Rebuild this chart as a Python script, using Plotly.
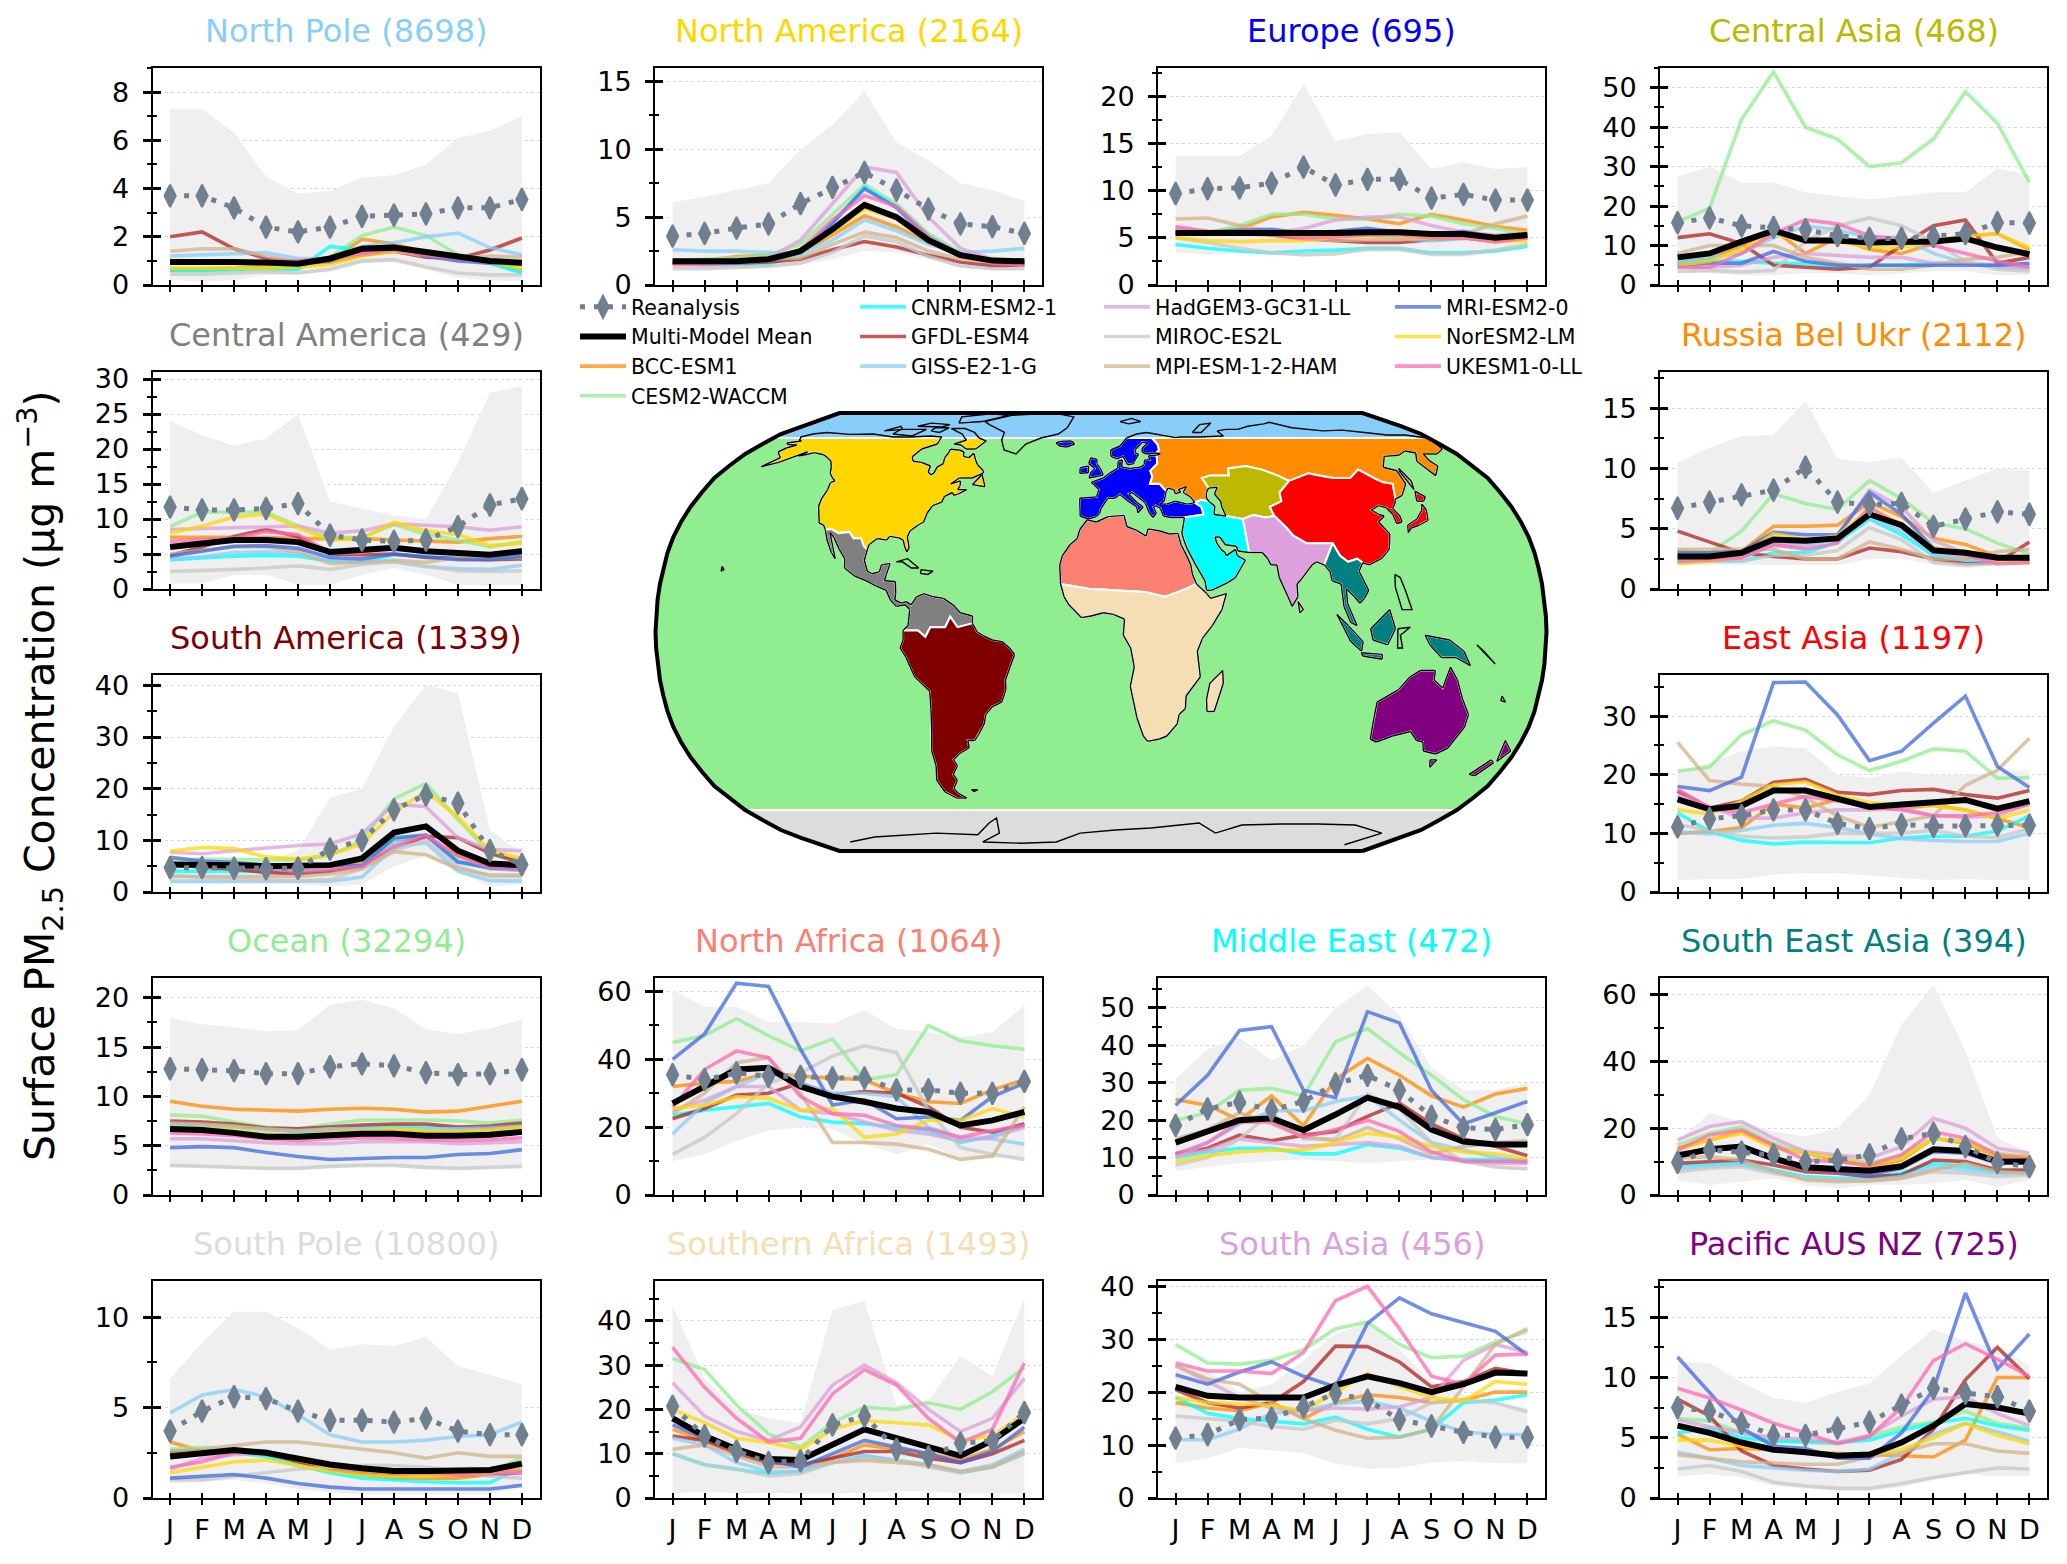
import numpy as np
import plotly.graph_objects as go

# the page body keeps an 8 px margin, so the figure is 16 px smaller and every pixel position shifts by 8
PAGE_MARGIN = 8
WIDTH, HEIGHT = 2067 - 2 * PAGE_MARGIN, 1564 - 2 * PAGE_MARGIN
months = ["J", "F", "M", "A", "M", "J", "J", "A", "S", "O", "N", "D"]
model_names = ["BCC-ESM1", "CESM2-WACCM", "CNRM-ESM2-1", "GFDL-ESM4", "GISS-E2-1-G", "HadGEM3-GC31-LL",
               "MIROC-ES2L", "MPI-ESM-1-2-HAM", "MRI-ESM2-0", "NorESM2-LM", "UKESM1-0-LL"]
model_colors = ["#ff8c00", "#90ee90", "#00ffff", "#b22222", "#87cefa", "#dda0dd",
                "#c8c8c8", "#d2b48c", "#4169e1", "#ffd700", "#ff69b4"]

# North Pole
npole_low = [.2, .15, .2, .4, .45, .55, .9, .95, .65, .3, .2, .15]
npole_high = [7.3, 7.3, 6.3, 4.5, 3.8, 3.9, 4.45, 4.55, 5.0, 6.1, 6.4, 7.0]
npole_rean = [3.7, 3.7, 3.2, 2.4, 2.2, 2.4, 2.85, 2.9, 2.95, 3.2, 3.2, 3.55]
npole_mean = [.95, .98, .95, .93, .88, 1.1, 1.5, 1.55, 1.35, 1.15, 1.0, .92]
npole_models = [
    [.65, .65, .7, .75, .75, 1.0, 1.9, 1.7, 1.35, 1.15, .95, .6],
    [.6, .6, .65, .7, .7, 1.15, 2.05, 2.4, 2.05, 1.25, .95, .55],
    [.6, .6, .65, .65, .65, 1.6, 1.45, 1.5, 1.3, 1.1, .9, .5],
    [2.0, 2.2, 1.5, 1.1, .95, .95, 1.25, 1.4, 1.15, 1.1, 1.45, 1.95],
    [1.2, 1.25, 1.3, 1.35, 1.1, 1.1, 1.6, 1.75, 2.0, 2.15, 1.55, 1.25],
    [.9, .95, .9, .95, 1.0, 1.1, 1.35, 1.45, 1.25, 1.05, .95, .9],
    [.45, .45, .5, .55, .5, .65, 1.0, 1.05, .75, .5, .42, .42],
    [1.4, 1.5, 1.5, 1.2, .95, 1.0, 1.3, 1.4, 1.2, 1.1, 1.2, 1.15],
    [.95, .95, .95, .9, .85, 1.0, 1.55, 1.6, 1.2, 1.0, .9, .85],
    [.7, .7, .7, .7, .75, .85, 1.2, 1.4, 1.35, 1.15, .95, .7],
    [.9, .9, .95, 1.0, 1.0, 1.1, 1.3, 1.45, 1.25, 1.1, .95, .9],
]
# North America
namer_low = [1.2, 1.2, 1.2, 1.2, 1.5, 1.9, 2.5, 2.4, 1.9, 1.3, 1.1, 1.1]
namer_high = [6.1, 6.5, 7.0, 7.5, 10, 11.8, 14.3, 10.5, 9.2, 7.5, 7.0, 6.2]
namer_rean = [3.6, 3.8, 4.2, 4.5, 6.0, 7.2, 8.3, 7.0, 5.6, 4.5, 4.3, 3.8]
namer_mean = [1.75, 1.75, 1.75, 1.9, 2.5, 4.1, 5.9, 5.0, 3.3, 2.2, 1.8, 1.75]
namer_models = [
    [1.7, 1.8, 2.1, 2.2, 2.4, 3.7, 5.1, 4.3, 3.1, 2.3, 1.9, 1.7],
    [1.8, 1.9, 2.0, 2.2, 3.0, 5.2, 7.4, 6.0, 3.8, 2.4, 1.8, 1.7],
    [1.6, 1.5, 1.5, 1.5, 2.3, 4.5, 7.2, 5.8, 3.6, 2.2, 1.6, 1.6],
    [1.6, 1.6, 1.6, 1.7, 1.9, 2.6, 3.2, 2.8, 2.2, 1.7, 1.4, 1.5],
    [2.6, 2.5, 2.5, 2.4, 2.3, 3.3, 4.8, 4.0, 3.0, 2.4, 2.5, 2.7],
    [1.8, 1.8, 1.9, 2.0, 3.3, 6.0, 8.7, 8.3, 5.0, 2.7, 1.9, 1.7],
    [1.2, 1.2, 1.3, 1.4, 1.6, 2.4, 3.6, 3.2, 2.1, 1.4, 1.2, 1.2],
    [1.7, 1.7, 1.8, 1.9, 2.0, 3.0, 3.9, 3.5, 2.5, 1.9, 1.7, 1.7],
    [1.7, 1.7, 1.7, 1.8, 2.4, 4.6, 7.1, 5.7, 3.4, 2.2, 1.7, 1.7],
    [1.7, 1.7, 1.7, 1.8, 2.4, 3.9, 5.6, 4.9, 3.3, 2.2, 1.7, 1.7],
    [1.5, 1.5, 1.6, 1.8, 2.6, 4.8, 6.6, 5.8, 3.6, 2.2, 1.6, 1.5],
]
# Europe
europe_low = [3.5, 3.2, 3.4, 3.4, 3.0, 3.3, 3.5, 3.5, 3.0, 3.0, 3.4, 3.9]
europe_high = [13.7, 13.7, 13.7, 15.8, 21.3, 15.2, 16.0, 16.2, 12.3, 13, 12.3, 12.5]
europe_rean = [9.7, 10.2, 10.3, 10.8, 12.5, 10.6, 11.2, 11.2, 9.2, 9.6, 9.0, 9.0]
europe_mean = [5.5, 5.5, 5.4, 5.4, 5.4, 5.5, 5.6, 5.6, 5.4, 5.4, 5.0, 5.3]
europe_models = [
    [5.8, 5.6, 6.0, 7.2, 7.7, 7.4, 7.0, 6.5, 7.5, 6.9, 6.2, 5.8],
    [5.5, 5.5, 6.3, 7.5, 7.5, 7.0, 7.0, 7.5, 7.3, 6.5, 6.0, 5.3],
    [4.3, 3.9, 3.6, 3.4, 3.6, 3.7, 3.9, 3.9, 3.4, 3.4, 3.6, 4.1],
    [5.5, 5.5, 5.6, 5.3, 4.9, 4.7, 4.5, 4.5, 4.8, 5.0, 4.6, 5.0],
    [5.7, 5.6, 5.7, 5.8, 5.3, 5.4, 5.3, 4.9, 4.7, 4.9, 5.0, 5.2],
    [6.0, 5.7, 5.6, 5.4, 6.0, 6.9, 7.2, 7.2, 6.3, 5.6, 5.3, 5.5],
    [5.0, 4.5, 3.9, 3.4, 3.2, 3.3, 3.8, 3.8, 3.3, 3.3, 3.7, 4.3],
    [7.0, 7.1, 6.3, 5.7, 5.0, 4.7, 4.8, 4.8, 5.0, 5.4, 6.5, 7.3],
    [5.5, 5.6, 5.8, 5.9, 5.5, 5.7, 6.0, 5.6, 5.3, 5.7, 5.0, 5.3],
    [5.0, 4.7, 4.6, 4.7, 4.7, 5.1, 5.2, 5.2, 4.9, 5.1, 4.6, 4.7],
    [6.2, 5.7, 5.4, 5.3, 5.0, 5.1, 5.3, 5.3, 5.0, 5.0, 4.6, 5.0],
]
# Central Asia
casia_low = [3, 3, 2.5, 2.5, 3, 3, 2.5, 3, 3.5, 3.5, 2.5, 2.5]
casia_high = [27.5, 30, 26, 26, 23.5, 22.5, 21.7, 22.5, 23.5, 23.5, 29.5, 28]
casia_rean = [15.8, 17, 15, 14.6, 14, 12.5, 11.8, 11.8, 12.3, 13, 15.8, 15.7]
casia_mean = [7, 8, 11, 13.8, 11.3, 11.3, 10.8, 10.8, 11, 11.8, 9.5, 7.8]
casia_models = [
    [6, 6.5, 10, 14, 8, 12, 9, 8, 10.5, 12.5, 13, 9],
    [16, 19.5, 42, 54, 40, 37, 30, 31, 37, 49, 41, 26],
    [5.5, 6, 6, 5.5, 5.5, 4.5, 5, 5, 5.5, 5.5, 5, 5],
    [12, 13, 10.5, 5, 4.5, 4, 4.5, 10, 15, 16.5, 5.5, 7],
    [6, 7, 8, 12, 15, 14, 12, 12, 8, 5.5, 5, 4.5],
    [4.5, 4.5, 5, 7, 8, 7.5, 7, 7, 5.5, 5.5, 4.5, 4],
    [3.5, 3.7, 3.3, 3.7, 11, 15, 17, 15, 11, 6, 4, 3.5],
    [8, 10, 10, 10, 7, 5.5, 4, 4, 5, 6.5, 7, 8.5],
    [5, 5.5, 5.5, 8.5, 6, 5, 5, 5, 5, 5, 5, 5.5],
    [5, 6, 9, 13, 11, 11, 9.5, 9.5, 11, 12.5, 13, 9.5],
    [4.5, 4.5, 8, 13, 16.5, 15.5, 12.5, 11.5, 10, 8, 6, 4.5],
]
# Central America
camer_low = [.8, .8, 2, 2, .6, .6, 2, 3, 2, .6, .5, .5]
camer_high = [24, 22, 20.5, 21.5, 25, 12.5, 11.5, 10.5, 10, 18, 28, 29]
camer_rean = [11.7, 11.3, 11.3, 11.5, 12.2, 7.7, 7.0, 6.8, 7.0, 8.9, 12.0, 12.9]
camer_mean = [6, 6.6, 7, 7, 6.7, 5.3, 5.5, 5.9, 5.4, 5.1, 4.9, 5.4]
camer_models = [
    [7.4, 7.4, 7.4, 7.4, 7.2, 7.2, 7.2, 7, 6.8, 6.7, 7.2, 7.5],
    [8.9, 11, 11, 11, 9, 7.3, 7.4, 9.2, 7.8, 7, 6, 6.8],
    [4.2, 4.5, 4.7, 4.8, 4.7, 4, 3.9, 4.9, 4.6, 4.4, 4.3, 4.5],
    [4.8, 6, 7.5, 8.5, 7.5, 5, 4.9, 5, 4.5, 4.3, 4.2, 4.3],
    [4.2, 4.6, 5.2, 5.3, 5, 4.2, 3.7, 3.9, 3.2, 2.9, 2.8, 3.4],
    [8.5, 8.6, 8.7, 8.9, 9, 8, 8.3, 9.3, 9.1, 8.9, 8.4, 8.9],
    [2.5, 2.6, 2.8, 3, 3.3, 2.8, 3.5, 3.9, 3.2, 2.6, 2.5, 2.6],
    [5, 5.5, 6, 6, 5.3, 3.6, 3.8, 4.1, 3.8, 4.5, 4.4, 4.5],
    [4.7, 5.4, 6.1, 6.2, 5.8, 4.5, 4.3, 5, 4.6, 4.2, 4.2, 4.7],
    [8, 9, 10.3, 10.7, 8.7, 7, 7.2, 9.5, 8.3, 7.8, 6.2, 6.5],
    [6.8, 7, 7.3, 8.2, 7.8, 5.2, 5.2, 6, 5.3, 5.2, 5, 5.6],
]
# Russia Bel Ukr
russia_low = [2, 2, 2, 2, 2, 2, 2.5, 2.5, 2, 1.7, 2, 2]
russia_high = [10.5, 11.7, 12.7, 12.8, 15.6, 10.8, 10.5, 10.9, 8, 9, 10, 9.8]
russia_rean = [6.7, 7.2, 7.8, 8.2, 10.1, 7.2, 7, 7.1, 5.2, 5.8, 6.4, 6.2]
russia_mean = [2.7, 2.7, 3, 4.1, 4, 4.2, 6.2, 5.3, 3.2, 3, 2.6, 2.6]
russia_models = [
    [3.2, 3, 3.1, 5.2, 5.2, 5.3, 7.2, 6, 4.2, 3.7, 2.7, 2.6],
    [3, 3, 4.8, 7.9, 7.1, 6.6, 9, 7.5, 5.5, 5, 3.8, 2.9],
    [2.2, 2.3, 2.3, 3, 3, 3.9, 5.8, 4.5, 2.8, 2.3, 2.2, 2.2],
    [4.8, 3.9, 3, 2.7, 2.5, 2.5, 3.4, 3.1, 2.5, 2.1, 2.2, 3.9],
    [2.5, 2.5, 2.6, 3.6, 3.5, 4.2, 5.9, 4.8, 2.9, 2.5, 2.3, 2.3],
    [2.6, 2.6, 2.9, 3.7, 3.7, 4.4, 8.2, 6.8, 4, 3, 2.3, 2.2],
    [2.3, 2.3, 2.3, 2.8, 2.8, 3.2, 5.1, 4.1, 2.2, 2, 2.1, 2.2],
    [3.3, 3.3, 3.3, 3.3, 2.5, 2.5, 3.9, 3.3, 2.5, 2.5, 3.1, 3.3],
    [3, 3, 3.1, 4.7, 4.5, 4.5, 8, 6.2, 3.4, 3, 2.6, 2.4],
    [2.1, 2.3, 2.7, 4.6, 4.1, 4.4, 6.7, 5.4, 3.4, 3.1, 2.4, 2.2],
    [2.3, 2.4, 2.6, 3.7, 3.3, 3.8, 6.8, 5.2, 3.1, 2.8, 2.1, 2.2],
]
# South America
samer_low = [1.5, 1.5, 1.5, 1.5, 1.5, 1, 1.5, 5, 7, 4, 1, 1.5]
samer_high = [6, 6, 6, 6, 8, 18.3, 20, 32, 40, 38.5, 12, 7.5]
samer_rean = [4.7, 4.7, 4.6, 4.5, 4.6, 8.3, 10, 15.9, 18.8, 17.2, 8, 5.3]
samer_mean = [5.3, 5.3, 5.2, 5, 5, 5.2, 6.5, 11.5, 12.7, 8, 5.5, 5.2]
samer_models = [
    [5.3, 5.2, 5, 5, 5, 5, 5.5, 10, 10.8, 7, 5, 5],
    [6, 6.4, 6.3, 6.2, 6.2, 7, 10, 18, 21, 14, 7.5, 6],
    [4, 4, 4, 4, 4, 4, 5.3, 10, 11, 6, 4.5, 4.2],
    [5.4, 4.8, 4.4, 3.8, 3.5, 4, 5, 8.5, 10.8, 10.5, 7.5, 5.7],
    [2.1, 2.1, 2.1, 2.1, 2.1, 2.1, 2.9, 8.7, 9.5, 4, 2.2, 2.1],
    [7.7, 7.4, 8, 8.5, 9, 9.3, 11.3, 17, 16.5, 10.5, 8.2, 8],
    [3.3, 2.8, 2.5, 2.3, 2.2, 2.4, 4.5, 8, 10, 5, 3, 3],
    [3, 3, 3, 3, 3, 3.5, 4.5, 7.8, 7.2, 4.5, 3.3, 3.3],
    [6.7, 6, 5.7, 5.2, 5.2, 5.3, 5, 10.5, 11, 5.8, 4.7, 4.5],
    [7.9, 8.6, 8.4, 6.8, 6.4, 7.2, 9.3, 15.5, 19.5, 14.5, 8, 6.5],
    [5, 5, 5, 4.5, 4, 4.3, 5, 9, 11, 7, 4.6, 4.3],
]
# East Asia
easia_low = [2, 2.2, 2.2, 3, 3.2, 3.2, 2.8, 2.4, 2, 2.2, 2, 2]
easia_high = [20.5, 22, 24, 24.8, 24.5, 20, 19.5, 20.5, 20, 20, 20.5, 20.8]
easia_rean = [11.1, 12.5, 13, 14, 14, 11.7, 10.8, 11.5, 11.2, 11.3, 11.4, 11.4]
easia_mean = [15.8, 14.1, 14.7, 17.3, 17.3, 15.9, 14.5, 14.9, 15.2, 15.7, 14.2, 15.5]
easia_models = [
    [10, 10.3, 11, 15, 14.3, 15.8, 14.3, 14.3, 14.8, 14, 12.5, 11],
    [20.6, 21.3, 26.8, 29.2, 27.6, 23.4, 20.7, 22.3, 24.4, 24, 19.4, 19.5],
    [13.5, 10.3, 8.8, 8.2, 8.5, 8.5, 8.4, 9.2, 9.5, 9.5, 10.4, 13],
    [17.2, 14.3, 15.5, 18.7, 19.2, 17, 16.6, 17.3, 17.5, 16.6, 16, 17.3],
    [10.3, 9.9, 10.5, 11.4, 11.7, 11, 9.9, 9.1, 8.8, 8.6, 8.6, 10],
    [16.5, 14.5, 12.6, 12.6, 13.5, 14, 14, 14.3, 13, 12.7, 13, 15],
    [11.5, 10.5, 9.5, 9.2, 9.4, 10, 10, 10, 10.5, 9.5, 9.3, 10.8],
    [25.5, 19, 18.4, 18, 16, 13, 11, 12, 13, 18.2, 20.8, 26.2],
    [18, 17.3, 19.6, 35.7, 35.8, 30.2, 22.4, 24, 28.8, 33.4, 21.4, 17.8],
    [14, 13.3, 15.5, 18.3, 18.8, 16.5, 15.2, 15, 14.7, 14, 12.5, 14],
    [17.5, 14.4, 13.5, 15, 16.3, 15.5, 14.5, 14, 13, 13, 13.5, 15],
]
# Ocean
ocean_low = [2.9, 2.9, 2.7, 2.6, 2.6, 2.9, 3, 3, 2.8, 2.6, 2.8, 2.9]
ocean_high = [18, 17.3, 17, 16.6, 16.7, 19.3, 19.8, 18.9, 16.8, 16.3, 16.9, 17.8]
ocean_rean = [12.8, 12.7, 12.6, 12.3, 12.3, 13, 13.3, 13.1, 12.4, 12.2, 12.3, 12.7]
ocean_mean = [6.7, 6.6, 6.3, 5.9, 5.9, 6.1, 6.2, 6.2, 6, 6, 6.1, 6.4]
ocean_models = [
    [9.5, 9, 8.7, 8.6, 8.5, 8.7, 8.8, 8.7, 8.4, 8.5, 9, 9.5],
    [8.1, 8, 7.4, 6.9, 6.7, 7.2, 7.6, 7.6, 7.6, 7.5, 7.3, 7.6],
    [6.9, 6.9, 6.9, 6.7, 6.4, 6.6, 6.8, 7, 6.9, 6.6, 6.7, 7.1],
    [7.5, 7.4, 7.2, 6.8, 6.7, 6.9, 7.1, 7.2, 7.2, 6.9, 7, 7.3],
    [7.2, 7.1, 6.9, 6.6, 6.5, 6.7, 6.7, 6.8, 6.7, 6.7, 6.8, 7],
    [5.7, 5.7, 5.5, 5.3, 5.2, 5.2, 5.4, 5.4, 5.4, 5.2, 5.3, 5.4],
    [3, 2.9, 2.8, 2.7, 2.7, 2.9, 3, 3, 2.8, 2.7, 2.8, 2.9],
    [7.3, 7.2, 7, 6.7, 6.5, 6.6, 6.5, 6.5, 6.4, 6.4, 6.6, 6.8],
    [4.8, 4.9, 4.8, 4.3, 3.9, 3.6, 3.7, 3.8, 3.8, 4.1, 4.2, 4.6],
    [6.7, 6.8, 6.6, 6.2, 6, 6.3, 6.5, 6.7, 6.5, 6.4, 6.5, 6.9],
    [6.3, 6.2, 6, 5.7, 5.5, 5.7, 5.8, 5.7, 5.6, 5.5, 5.6, 5.8],
]
# North Africa
nafr_low = [10, 12, 16, 19, 20, 19.5, 15, 12, 15, 11, 11, 11]
nafr_high = [60.5, 55.5, 55.5, 51, 51, 50.5, 54.5, 49, 48, 46.5, 48, 56]
nafr_rean = [35.5, 34, 36, 35, 35, 34.5, 34.5, 31, 31, 30, 30, 33.5]
nafr_mean = [27, 32, 37, 37.5, 32, 29, 27.5, 25.5, 24.5, 20.5, 22, 24.5]
nafr_models = [
    [32, 33, 33.5, 36, 35, 34.5, 34, 30, 27.5, 27, 31, 34],
    [45, 47, 52, 47, 42.5, 46, 34, 35.5, 50, 45.5, 44, 43],
    [23.5, 25, 26, 27, 23, 21.5, 21, 20, 19, 15.5, 17.5, 20.5],
    [22.5, 25.5, 29.5, 30, 33, 29.5, 30.5, 30, 26, 20, 18.5, 21],
    [18, 27, 32, 36, 33, 30, 30, 29, 20, 17, 16.5, 15],
    [25, 28, 32, 32, 25, 24, 21.5, 19, 18, 16, 17, 20],
    [12, 17, 24, 33, 36, 41, 44, 42, 25, 14, 12, 10.5],
    [24, 30, 39, 40.5, 30, 15.5, 15.5, 15, 13.5, 10.5, 11.5, 26],
    [40, 47.5, 62.5, 61.5, 43, 26.5, 28, 22.5, 23, 22, 29, 33],
    [25.5, 26.5, 29, 28.5, 25, 25.5, 17, 18, 22, 22, 25.5, 23],
    [26, 37, 42.5, 40.5, 29, 24, 23.5, 20.5, 19.5, 17, 19, 20.5],
]
# Middle East
meast_low = [6.5, 7.5, 8.5, 9, 9.5, 9, 8.5, 9, 9.5, 9, 7, 6.5]
meast_high = [31, 39, 42, 36, 40, 50, 56, 48, 34, 28, 28, 30]
meast_rean = [18.6, 23, 24.8, 22.7, 25, 29.7, 32, 28, 21, 18, 17.5, 18.8]
meast_mean = [14, 17, 20, 20.5, 17.3, 21.5, 26, 23.5, 17.5, 14.3, 13.5, 13.5]
meast_models = [
    [25.5, 24, 20, 26.5, 18.5, 31, 36.5, 32, 26.5, 23.5, 27, 28.5],
    [20, 22, 28, 28.5, 26.5, 41, 44.5, 38, 32, 25.5, 21, 19],
    [10, 11.5, 12.5, 12.5, 11, 11, 13.5, 12.5, 10, 9.5, 9.5, 9.5],
    [11, 12.5, 16, 14.5, 16, 17, 21, 24.5, 19, 15, 13, 10.5],
    [10, 14, 19, 22.5, 22.5, 25, 26.5, 20, 14, 12, 10, 8.5],
    [10.5, 12, 15, 14, 13, 13.5, 14, 13, 10, 9, 8.5, 8.5],
    [8, 10, 15, 22, 15, 15, 27, 23, 14, 9, 7.5, 7],
    [15, 17.5, 22, 19, 15.5, 14.5, 18, 15, 11, 13, 14, 14.5],
    [24, 32, 44, 45, 28, 26, 49, 46, 28, 19, 22, 25],
    [9, 10.5, 11.5, 12, 12, 14, 16.5, 15.5, 13, 11.5, 11, 9.5],
    [11, 14, 19.5, 19.5, 15.5, 17.5, 20, 17, 11.5, 9, 9, 9],
]
# South East Asia
seasia_low = [4.5, 3, 4, 5, 3, 2, 3, 3, 3.5, 4.5, 2.5, 4.5]
seasia_high = [16, 24.5, 22, 19, 17.5, 20, 30, 51, 63, 43, 17, 13]
seasia_rean = [9.8, 13.5, 12.8, 12, 10, 10.5, 12, 16.8, 18.5, 14.5, 9.7, 8.5]
seasia_mean = [11.8, 13.7, 14.5, 11, 8.3, 8, 7.3, 8.6, 13.7, 13.2, 10, 10]
seasia_models = [
    [14, 16.5, 19, 14.5, 12.5, 10.5, 8.5, 10.5, 17, 15.5, 11.5, 11.5],
    [15, 18.5, 20.5, 15.5, 12.5, 11.5, 9.5, 12, 17, 16, 12.5, 11.5],
    [9, 9, 9.5, 7.5, 5.5, 5, 5, 6.5, 9.5, 8.5, 7, 7],
    [9.5, 10, 10.5, 9, 7, 6.5, 5.5, 6, 10.5, 10, 7.5, 7.5],
    [8, 8.5, 9, 7, 5, 4.5, 4.5, 5.5, 8.5, 7.5, 6.5, 6.5],
    [16.5, 20.5, 22, 17, 13, 12, 11, 14.5, 23, 20, 14, 12.5],
    [7, 8, 8.5, 6.5, 5, 4.5, 4.2, 5, 7, 6.5, 5.5, 6],
    [11, 11.5, 10.5, 7.2, 4.5, 4, 4.2, 5, 7.5, 9.5, 7, 6.5],
    [12.5, 13.5, 14, 10.5, 8, 7, 6, 8, 13, 12.5, 9.5, 9.5],
    [13.5, 16.5, 18.5, 14, 12.5, 11, 9, 11, 17, 16, 12, 11.5],
    [13.5, 18, 19.5, 15, 10.5, 10, 9, 12, 19, 17, 12, 11],
]
# South Pole
spole_low = [.8, .9, 1, .8, .5, .3, .2, .2, .2, .2, .2, .7]
spole_high = [6.6, 8.6, 10.3, 10.3, 9.4, 8.2, 8.5, 8.4, 8.9, 7.3, 6.8, 6.3]
spole_rean = [3.7, 4.8, 5.6, 5.5, 4.8, 4.3, 4.3, 4.2, 4.4, 3.7, 3.5, 3.5]
spole_mean = [2.3, 2.5, 2.65, 2.5, 2.15, 1.85, 1.65, 1.5, 1.5, 1.55, 1.55, 1.9]
spole_models = [
    [3.1, 2.6, 2.5, 2.4, 2, 1.6, 1.3, 1.1, 1.1, 1.1, 1.3, 1.8],
    [2.7, 2.8, 2.7, 2.6, 2.1, 1.7, 1.4, 1.3, 1.2, 1.3, 1.5, 2.2],
    [2.6, 2.6, 2.5, 2.3, 1.8, 1.4, 1.1, 1, .9, .85, .85, 1.7],
    [2.5, 2.6, 2.6, 2.5, 2, 1.6, 1.4, 1.3, 1.3, 1.3, 1.3, 1.4],
    [4.7, 5.7, 6, 5.6, 4.6, 3.5, 3.1, 3.1, 3.2, 3.4, 3.5, 4.2],
    [1.6, 2.2, 2.4, 2.5, 2.1, 1.7, 1.5, 1.4, 1.3, 1.3, 1.4, 1.4],
    [1, 1, 1.2, 1.4, 1.6, 1.7, 1.8, 1.8, 1.7, 1.5, 1.2, 1.1],
    [2.6, 2.7, 2.9, 3.1, 3.1, 2.9, 2.7, 2.5, 2.2, 2.5, 2.3, 2.3],
    [1.1, 1.2, 1.3, 1.1, .8, .6, .5, .5, .5, .5, .5, .7],
    [1.4, 1.7, 2, 2.1, 1.8, 1.5, 1.3, 1.2, 1.2, 1.3, 1.4, 1.6],
    [1.7, 2, 2.5, 2.6, 2.1, 1.8, 1.6, 1.4, 1.4, 1.3, 1.4, 1.5],
]
# Southern Africa
safr_low = [1, 1.5, 1, 1.2, 1, 1, 1.2, 1.5, 1.5, 1, 1, 1]
safr_high = [43.5, 27, 20, 18, 17, 42.5, 44.5, 21, 22, 32, 27.5, 45]
safr_rean = [20.7, 14, 10.6, 8, 8.4, 16.5, 18.5, 11, 9.3, 12.4, 12.9, 19.3]
safr_mean = [18, 14, 11, 8.8, 8.6, 12, 15.5, 13.5, 11.5, 9.5, 13, 18]
safr_models = [
    [15.5, 13, 11, 9, 7, 9, 12, 11, 10, 8.5, 11, 15],
    [31.5, 29, 21, 14.5, 11.5, 17, 20.5, 20, 21.5, 20, 24, 29.5],
    [10, 7.5, 6.5, 5.5, 6, 8, 9.5, 8.5, 7.5, 5.7, 7, 10],
    [14, 13, 10, 8, 7.5, 9, 10.5, 10.5, 9, 8, 10, 13],
    [13.5, 12, 8, 6, 6, 8, 9.5, 8.5, 7.5, 6, 7.5, 11],
    [26, 18.5, 15, 13, 16, 25.5, 30, 26, 20, 15, 18, 27],
    [10, 7.5, 6.5, 5, 5.5, 8, 9, 8.5, 7, 5.7, 7, 10],
    [11, 12, 9.5, 7, 7, 8, 8.5, 8, 7.5, 6, 7, 10.5],
    [16.5, 13.5, 11, 8.5, 7, 10, 13, 11.5, 10, 8, 10.5, 16],
    [20, 17, 13.5, 12.5, 11, 15.5, 17.5, 17, 16.5, 13, 14, 19],
    [34, 25, 18, 12.7, 13.5, 23.5, 29, 25.5, 18, 12.5, 15.5, 30.5],
]
# South Asia
sasia_low = [6.5, 7.5, 9.5, 9, 8.5, 6.5, 5.5, 5.7, 6.7, 7, 6.6, 6.5]
sasia_high = [25, 24, 20, 21.5, 26, 31, 33, 28, 22, 19.5, 18, 17]
sasia_rean = [11.3, 12, 14.8, 15.1, 17.2, 19.8, 18.5, 14.8, 13.6, 12.4, 11.5, 11.5]
sasia_mean = [21, 19.3, 19, 19, 19, 21.3, 23, 21.7, 20, 21.5, 23.7, 23.5]
sasia_models = [
    [18, 17, 16.5, 18, 15, 18, 19.5, 19, 18, 18.5, 20, 20],
    [29, 25.5, 25.3, 26, 28, 32, 33.2, 29, 26.5, 26.8, 29.5, 31.5],
    [19, 16, 15, 14.5, 14, 15.3, 13, 11.5, 13, 18, 18.5, 19.5],
    [20.5, 18, 17, 18, 22, 28.7, 28.6, 25.7, 21, 22, 24.5, 23.5],
    [11, 11, 13, 16, 16.5, 17.8, 18.3, 17, 14.5, 12.5, 12, 12],
    [25, 22, 19, 17, 16.5, 17, 16.8, 17.2, 19, 26, 29, 27.5],
    [15.5, 15, 14.5, 13.5, 13, 14.7, 14, 15, 18, 18.5, 18, 16.3],
    [25, 22.5, 21.5, 18, 15, 12.8, 11.3, 11.5, 13, 21, 29, 32],
    [23.3, 21.5, 23.8, 25.7, 23, 21, 33, 37.8, 34.8, 33.2, 31.5, 27],
    [19, 18, 17.8, 17.5, 16.5, 20, 23.5, 21, 19, 18.3, 22, 21.5],
    [25.5, 24, 24, 23.5, 27.5, 37.3, 40, 32, 23, 21.5, 27, 27.2],
]
# Pacific AUS NZ
pac_low = [1.8, 2, 1.7, 1, .8, .6, .6, .9, 1.5, 2, 1.8, 1.8]
pac_high = [11.3, 11.2, 9.6, 8.3, 7.9, 8.8, 9.5, 11.8, 14, 13, 12.5, 11]
pac_rean = [7.5, 7.2, 6.2, 5.2, 5.2, 5.8, 6.3, 7.7, 9.1, 8.7, 8.4, 7.2]
pac_mean = [6, 5.4, 4.6, 4, 3.8, 3.5, 3.6, 4.6, 6, 7.8, 7.5, 7]
pac_models = [
    [5.3, 4, 4.1, 4, 3.8, 3.7, 3.6, 3.5, 3.4, 4.8, 10, 10],
    [6.6, 6.4, 5.4, 4.8, 4.6, 4.5, 5.1, 5.9, 6.3, 7.2, 6.2, 5.8],
    [5.4, 5.8, 5, 4.7, 4.7, 4.6, 4.8, 5.6, 6.2, 6.6, 6, 5.6],
    [8.2, 6.8, 3.9, 2.7, 2.4, 2.2, 2.3, 3.2, 5.7, 9.8, 12.5, 9.9],
    [3.8, 3.3, 2.7, 2.5, 2.3, 2.2, 2.4, 3.7, 5.3, 6.2, 5.5, 4.7],
    [6.5, 5.9, 5.4, 5, 4.9, 4.6, 5.2, 6.8, 8.2, 8.4, 7, 6],
    [2.4, 2.7, 2.2, 1.3, 1, .8, .8, 1.2, 1.7, 2.1, 2.5, 2.4],
    [3.6, 3.3, 3, 2.9, 2.8, 2.8, 3.4, 3.8, 4.5, 4.5, 3.9, 3.7],
    [11.7, 8.7, 5.8, 4.3, 4.1, 3.3, 3.3, 5.4, 9, 17, 10.7, 13.6],
    [4.8, 4.8, 4.3, 4, 3.8, 3.7, 3.6, 4, 5, 6.2, 5.2, 4.5],
    [9.1, 8.3, 7.3, 6.2, 5.4, 4.5, 5.1, 7.5, 11.4, 12.8, 11.5, 10.1],
]

# title, colour, column, row, ymax, major step, low, high, reanalysis, mean, models
panels = [
    ("North Pole (8698)", "#87cefa", 0, 0, 9, 2, npole_low, npole_high, npole_rean, npole_mean, npole_models),
    ("North America (2164)", "#ffd700", 1, 0, 16, 5, namer_low, namer_high, namer_rean, namer_mean, namer_models),
    ("Europe (695)", "#0000ff", 2, 0, 23, 5, europe_low, europe_high, europe_rean, europe_mean, europe_models),
    ("Central Asia (468)", "#bdb800", 3, 0, 55, 10, casia_low, casia_high, casia_rean, casia_mean, casia_models),
    ("Central America (429)", "#808080", 0, 1, 31, 5, camer_low, camer_high, camer_rean, camer_mean, camer_models),
    ("Russia Bel Ukr (2112)", "#ff8c00", 3, 1, 18, 5, russia_low, russia_high, russia_rean, russia_mean, russia_models),
    ("South America (1339)", "#800000", 0, 2, 42, 10, samer_low, samer_high, samer_rean, samer_mean, samer_models),
    ("East Asia (1197)", "#ff0000", 3, 2, 37, 10, easia_low, easia_high, easia_rean, easia_mean, easia_models),
    ("Ocean (32294)", "#90ee90", 0, 3, 22, 5, ocean_low, ocean_high, ocean_rean, ocean_mean, ocean_models),
    ("North Africa (1064)", "#fa8072", 1, 3, 64, 20, nafr_low, nafr_high, nafr_rean, nafr_mean, nafr_models),
    ("Middle East (472)", "#00ffff", 2, 3, 58, 10, meast_low, meast_high, meast_rean, meast_mean, meast_models),
    ("South East Asia (394)", "#008080", 3, 3, 65, 20, seasia_low, seasia_high, seasia_rean, seasia_mean, seasia_models),
    ("South Pole (10800)", "#dcdcdc", 0, 4, 12, 5, spole_low, spole_high, spole_rean, spole_mean, spole_models),
    ("Southern Africa (1493)", "#f5deb3", 1, 4, 49, 10, safr_low, safr_high, safr_rean, safr_mean, safr_models),
    ("South Asia (456)", "#dda0dd", 2, 4, 41, 10, sasia_low, sasia_high, sasia_rean, sasia_mean, sasia_models),
    ("Pacific AUS NZ (725)", "#800080", 3, 4, 18, 5, pac_low, pac_high, pac_rean, pac_mean, pac_models),
]

# map outlines in lon, lat
region_polys = {
    "#ffd700": [  # North America
        [(-165, 68), (-88, 68), (-87, 65), (-93, 62.5), (-94.5, 58.8), (-92.5, 57), (-88, 56.5), (-82.5, 55), (-82, 52.5),
         (-80, 51.3), (-79, 52), (-79, 54.5), (-77, 56), (-78, 58.5), (-77.5, 60.5), (-78, 62.4), (-73, 62), (-70, 61),
         (-69, 59), (-66, 58.5), (-64.5, 60.3), (-62, 57.5), (-60, 55.5), (-56, 53), (-55.7, 52), (-60, 50), (-66, 50),
         (-69, 48), (-65, 49), (-64.5, 47.5), (-65, 46), (-61, 46), (-64, 44.5), (-66, 44), (-67, 45), (-70, 43.7),
         (-70.5, 41.7), (-74, 40.5), (-75.5, 38), (-76, 35), (-78, 34), (-81, 32), (-81.5, 30), (-80, 26.5), (-80.7, 25.2),
         (-82, 27), (-83, 29), (-85, 29.7), (-89, 30.2), (-90, 29), (-94, 29.5), (-97, 27.5), (-97.3, 25.9), (-99, 27),
         (-101, 29.7), (-104, 29.5), (-106.5, 31.7), (-111, 31.3), (-114.7, 32.7), (-117.1, 32.5), (-118.5, 34),
         (-120.6, 34.6), (-122.4, 37.7), (-124, 40.3), (-124.5, 43), (-124, 46), (-124.7, 48.4), (-123, 49), (-125, 50),
         (-128, 52), (-130, 54.5), (-133, 57), (-137, 58.7), (-140, 59.7), (-146, 60.7), (-150, 59.5), (-152, 59.2),
         (-150, 61), (-154, 58.7), (-158, 56.5), (-164, 54.7), (-160, 58.5), (-162, 59.5), (-165, 61), (-164, 63),
         (-161, 64.5), (-166, 64.7), (-168, 65.5), (-162, 66.5), (-164, 67), (-165, 68)],
        [(-75, 68), (-67, 68), (-62, 66.5), (-65, 62.5), (-70, 62.5), (-74, 64.5), (-78, 65), (-73, 67), (-75, 68)],
        [(-59, 47.7), (-56, 51.5), (-53, 47), (-59, 47.7)],
    ],
    "#808080": [  # Central America
        [(-117.1, 32.5), (-114.7, 32.7), (-111, 31.3), (-106.5, 31.7), (-104, 29.5), (-101, 29.7), (-99, 27), (-97.3, 25.9),
         (-97.8, 22.5), (-96, 19), (-94, 18.2), (-91, 18.8), (-90.5, 21), (-87, 21.5), (-88, 18), (-88.5, 16), (-84, 15.8),
         (-83.5, 12), (-83.7, 10), (-81, 9), (-79, 9.5), (-77, 8.5), (-75, 11), (-72, 12), (-68, 11), (-64, 10.5),
         (-60, 8.5), (-57, 6), (-52, 5), (-52, 2.7), (-58, 1.5), (-61, 4.8), (-63, 1.5), (-69, 1.5), (-71, -1.5),
         (-74, 0.5), (-80, 0.5), (-78, 2), (-77.5, 7), (-79.5, 8.5), (-83, 8), (-85.5, 10), (-87.5, 13), (-92, 14.5),
         (-96, 16), (-101, 17.5), (-105.5, 20), (-106, 23), (-109, 26), (-112.5, 30), (-114.7, 31.5), (-112, 27),
         (-110, 23), (-112, 25), (-115, 29), (-117.1, 32.5)],
    ],
    "#800000": [  # South America
        [(-80, 0.5), (-74, 0.5), (-71, -1.5), (-69, 1.5), (-63, 1.5), (-61, 4.8), (-58, 1.5), (-52, 2.7), (-50, 0), (-48, -1),
         (-44, -2.5), (-40, -3), (-37, -5), (-35, -7), (-37, -11), (-39, -15), (-39, -18), (-41, -22), (-45, -23.5),
         (-48, -26), (-49, -29), (-52, -32.5), (-54, -34.5), (-57, -34.5), (-57, -37), (-62, -39), (-65, -41), (-64, -43),
         (-67, -46), (-66, -48), (-69, -51), (-68, -53), (-65, -55), (-70, -55), (-74, -52.5), (-75.5, -48), (-73.5, -43),
         (-73.5, -38), (-71.5, -31), (-70.5, -24), (-70.3, -18.5), (-76, -14), (-79, -8), (-81.3, -5), (-80, -2.5), (-80, 0.5)],
    ],
    "#fa8072": [  # North Africa
        [(-16.5, 15), (-17, 21), (-16, 24), (-13, 27.5), (-10, 29.5), (-9, 32.5), (-6, 35.7), (-2, 35), (3, 36.8), (10, 37.2),
         (11, 33.5), (15, 32.3), (19, 30.3), (20, 32.7), (25, 32), (29, 31), (32.5, 31.2), (33.5, 27.5), (35.5, 24), (37, 21),
         (37.5, 18), (39, 15), (33, 13), (26, 11), (18, 12.5), (8, 13), (-5, 13.5), (-16.5, 15)],
    ],
    "#f5deb3": [  # Southern Africa
        [(-16.5, 15), (-5, 13.5), (8, 13), (18, 12.5), (26, 11), (33, 13), (39, 15), (43, 12), (44.5, 10.5), (51, 12), (49, 7),
         (45, 2), (41, -2), (39, -6), (40.5, -14), (35, -20), (35, -24), (32.5, -26), (32, -29), (28, -33), (25, -34),
         (20, -34.8), (18, -33), (15, -27), (12, -17), (13.5, -11), (12, -5), (9, -1), (9.5, 4), (5, 5.5), (1, 6), (-4, 5),
         (-8, 4.5), (-13, 8.5), (-15, 11), (-16.5, 15)],
        [(49.5, -12), (50, -16), (47, -25), (44, -25), (43.5, -21), (44.5, -16), (49.5, -12)],
    ],
    "#0000ff": [  # Europe
        [(14, 68), (28, 68), (30, 65), (30, 62), (28, 60.5), (23, 60), (21, 61), (21.5, 63), (25, 65.5), (22, 65.8), (17.5, 62),
         (17.5, 60.5), (19, 59.8), (16.5, 57), (16, 56), (13, 55.5), (11, 59), (8, 58), (5, 59), (5, 62), (10, 64), (14, 68)],
        [(-9, 37), (-9.5, 43), (-2, 43.5), (-1, 46), (-4.5, 48.5), (1, 50), (4, 52), (8, 54), (8.5, 57), (10.5, 57.5), (10, 54.5),
         (14, 54), (19, 54.5), (21, 55.5), (21.5, 57.5), (24, 57.5), (24, 59.3), (28, 59.5), (27.5, 56), (23.5, 53), (24, 50.5),
         (22.5, 48), (27, 48), (29.5, 45.5), (28, 42), (26, 41), (29, 41), (33, 42), (38, 41), (41.5, 41.5), (44, 40),
         (44.5, 37.5), (36, 36.5), (30, 36.5), (27, 37), (26, 39.5), (24, 40.5), (23, 40), (24, 38), (22.5, 36.5), (21, 38),
         (19.5, 41.5), (14, 45), (12.5, 44.5), (16, 41.5), (18.5, 40), (16, 38), (15.7, 40), (12, 42), (8.5, 44.3), (6, 43),
         (3, 43), (0, 39.5), (-0.5, 38), (-2, 36.8), (-5.5, 36), (-9, 37)],
        [(-5.5, 50), (1, 51.2), (0, 53.5), (-2, 56), (-2, 57.7), (-5, 58.5), (-6, 56), (-3, 54), (-5, 52), (-5.5, 50)],
        [(-10, 52), (-6, 52.2), (-6, 55), (-10, 54.3), (-10, 52)],
        [(-24, 65.5), (-22, 64), (-18, 63.5), (-14, 65), (-16, 66.5), (-22, 66.3), (-24, 65.5)],
    ],
    "#ff8c00": [  # Russia Bel Ukr
        [(28, 68), (40, 68), (60, 68), (80, 68), (100, 68), (120, 68), (140, 68), (160, 68), (179, 68), (178, 65), (177, 62.5),
         (170, 60), (163, 60), (162, 57), (163, 55), (157, 51), (155.5, 57), (160, 60.5), (156, 61.5), (150, 59.5), (142, 59),
         (136, 54.5), (141, 53), (140, 48), (135, 44), (131, 42.7), (134, 48), (130, 48.5), (127, 50), (123, 53.5), (120, 52),
         (116, 50), (108, 50), (102, 51), (98, 52), (87, 49), (83, 51), (77, 53.5), (70, 55), (61, 54), (60, 51), (51, 51),
         (47, 50), (49, 46.5), (47.5, 45), (47, 43), (48, 41.8), (44.5, 42.5), (41.5, 41.5), (40, 43.5), (37, 45), (39, 47),
         (35, 46), (36, 45.2), (33.5, 44.5), (33, 46), (30.5, 46.5), (29.5, 45.5), (27, 48), (22.5, 48), (24, 50.5),
         (23.5, 53), (27.5, 56), (28, 59.5), (30, 60), (28, 60.5), (30, 62), (30, 65), (28, 68)],
        [(142, 46), (143.5, 49), (143, 54), (142, 53), (142, 46)],
    ],
    "#bdb800": [  # Central Asia
        [(51, 51), (60, 51), (61, 54), (70, 55), (77, 53.5), (83, 51), (87, 49), (80.5, 45), (80, 42), (74, 40), (75, 37), (71, 36.5),
         (66, 37.3), (61, 36), (54, 37), (53, 40), (53, 42), (51, 44.5), (53, 46.8), (49, 46.5), (47, 50), (51, 51)],
    ],
    "#ff0000": [  # East Asia
        [(87, 49), (98, 52), (102, 51), (108, 50), (116, 50), (120, 52), (123, 53.5), (127, 50), (130, 48.5), (134, 48), (131, 42.7),
         (129.5, 41), (127.5, 39.5), (129.3, 37), (129, 35), (126.5, 34.5), (126.5, 37.5), (125, 39.7), (122, 40.5), (118, 39),
         (120.5, 37.5), (122.5, 37), (119, 35), (122, 31), (120, 26), (116, 23), (110.5, 21), (108, 21.7), (106, 23), (102, 22),
         (99, 24), (97, 28), (92, 28), (86, 28), (81, 30.5), (79, 33), (75, 37), (74, 40), (80, 42), (80.5, 45), (87, 49)],
        [(130, 31.5), (131, 34), (136, 36), (140, 39), (141.5, 41), (142, 39), (140.5, 35.5), (136, 34), (132, 33), (130, 31.5)],
        [(140, 42), (142, 45.5), (145, 43.5), (143, 42), (140, 42)],
    ],
    "#dda0dd": [  # South Asia
        [(61, 36), (66, 37.3), (71, 36.5), (75, 37), (79, 33), (81, 30.5), (86, 28), (92, 28), (97, 28), (94, 24), (92, 21), (89, 22),
         (87, 21), (82, 16.5), (80, 15), (80, 11), (77.5, 8), (76, 11), (73, 17), (72.5, 21), (70, 21), (69, 23), (67, 25),
         (61.5, 25), (61, 30), (61, 36)],
        [(80, 9.5), (82, 7), (80.5, 6), (80, 9.5)],
    ],
    "#00ffff": [  # Middle East
        [(34.2, 31.3), (36, 36.5), (44.5, 37.5), (44, 40), (41.5, 41.5), (44.5, 42.5), (48, 41.8), (50, 40.3), (49, 37.5), (54, 37),
         (61, 36), (61, 30), (61.5, 25), (57, 25.5), (56.5, 27), (52, 27.5), (50, 30), (48, 30), (48.5, 28), (50, 26), (51.5, 25),
         (52, 24), (56, 26), (56.5, 24), (59.7, 22.5), (55, 17), (52, 15.5), (45, 13), (43, 13), (42.5, 16), (39, 21), (36, 26),
         (34.8, 29), (34.2, 31.3)],
    ],
    "#008080": [  # South East Asia
        [(92, 21), (94, 24), (97, 28), (99, 24), (102, 22), (106, 23), (108, 21.7), (106, 19), (109, 13), (107, 10.5), (105, 9),
         (103, 11), (100, 13.5), (100, 9), (103.5, 2), (101, 3), (98.5, 8), (98, 15), (94.5, 16), (94, 19), (92, 21)],
        [(95.5, 5.5), (100, 2), (106, -3), (105.5, -6), (101, -3), (95.5, 5.5)],
        [(109, 1), (117, 7), (119, 1), (116, -4), (110, -2.5), (109, 1)],
        [(105.5, -6.5), (114, -7), (114, -8.5), (106, -7.5), (105.5, -6.5)],
        [(131, -1), (141, -2.5), (147, -6), (150, -10.5), (144, -8), (138, -8), (133, -4), (131, -1)],
    ],
    "#800080": [  # Pacific AUS NZ
        [(114, -22), (122, -18), (126, -14), (130, -12), (136, -12), (136, -15), (140, -17.5), (142, -11), (145.5, -15), (149, -21),
         (153, -26), (153, -30), (150, -37), (146, -39), (140, -38), (138, -35), (135, -34.5), (131, -31.5), (124, -33), (118, -35),
         (115, -34), (114, -27), (114, -22)],
        [(145, -41), (148, -41), (147, -43.5), (145, -41)],
        [(173, -34.5), (178, -38), (175, -41.5), (174, -39), (173, -34.5)],
        [(172, -41), (174, -42), (170, -46.5), (167, -46), (172, -41)],
    ],
}
coast_only = [
    [(-73, 78), (-60, 82), (-32, 83.4), (-18, 81), (-20, 74), (-24, 70), (-33, 68), (-40, 65), (-43, 60), (-50, 62), (-54, 67), (-55, 71), (-68, 76), (-73, 78)],
    [(-165, 68), (-166, 68.5), (-162, 70), (-156, 71), (-141, 69.8), (-128, 70), (-115, 68.5), (-105, 68.5), (-95, 69), (-88, 68.5), (-88, 68)],
    [(-75, 68), (-78, 70), (-88, 73.5), (-80, 73.5), (-72, 71), (-67, 68)],
    [(-117, 70), (-105, 69), (-102, 73), (-117, 73), (-117, 70)],
    [(-125, 72), (-116, 73), (-120, 75), (-125, 72)],
    [(-88, 77), (-75, 78), (-62, 82), (-75, 83), (-92, 81), (-88, 77)],
    [(-110, 75), (-95, 74.5), (-92, 76), (-105, 77), (-110, 75)],
    [(-98, 72), (-92, 71), (-90, 74), (-98, 74), (-98, 72)],
    [(14, 68), (20, 70), (26, 71), (31, 70), (41, 68.2), (44, 68.5), (54, 68.5), (68, 69), (67, 72), (73, 73), (80, 73), (88, 75), (100, 76.5), (105, 77.5),
     (113, 74), (128, 72), (140, 72.5), (150, 71), (160, 69.5), (170, 69.5), (179, 68)],
    [(12, 78), (20, 80), (25, 78), (17, 76.5), (12, 78)],
    [(52, 71), (57, 71), (68, 77), (60, 76), (52, 71)],
    [(-157, -77.7), (-135, -74.5), (-95, -72), (-72, -73), (-60.5, -66.5), (-55, -64), (-58.6, -72), (-74, -77.7), (-50.5, -78.5), (-28, -77.7),
     (-12, -72), (8, -70), (27.7, -69), (53, -66.5), (66, -72), (77, -67.5), (98, -67), (118, -67), (139, -67.5), (162, -72), (157, -79.5)],
    [(-84.5, 22), (-80, 23), (-75, 20), (-78, 20), (-82, 22), (-84.5, 22)],
    [(-74, 19.5), (-69, 19), (-71, 18), (-74, 18.3), (-74, 19.5)],
    [(-156, 20.5), (-155, 19.5), (-156, 19), (-156, 20.5)],
    [(-61, -51.5), (-58, -51.5), (-60, -52.3), (-61, -51.5)],
    [(120, 1), (125, 1.5), (121, -1), (122, -5), (120, -5), (120, 1)],
    [(120.5, 18), (122.5, 17), (124, 13), (126, 7), (122, 7), (120, 14), (120.5, 18)],
    [(152, -4), (155, -6), (160, -10), (156, -7), (152, -4)],
    [(165, -20), (167, -22), (165, -21.5), (165, -20)],
]

# Robinson x factor and picture-read y offset by latitude
rob_lat = [0, 5, 10, 15, 20, 25, 30, 35, 40, 45, 50, 55, 60, 65, 70, 75, 80, 85, 90]
rob_x = [1.0, .9986, .9954, .99, .9822, .973, .96, .9427, .9216, .8962, .8679, .835, .7986, .7597, .7186, .6732, .6213, .5722, .5322]
map_lat = [0, 10, 20, 30, 40, 50, 60, 70, 83.5]
map_y = [0, 32, 64, 95, 125, 154, 178, 198, 219]
MAP_HALF_WIDTH = 445.5


def proj(points):
    xs, ys = [], []
    for lon, lat in points:
        xs.append(np.interp(abs(lat), rob_lat, rob_x) * lon / 180 * MAP_HALF_WIDTH)
        ys.append(np.sign(lat) * np.interp(abs(lat), map_lat, map_y))
    return xs, ys


def proj_parts(parts):
    xs, ys = [], []
    for part in parts:
        px, py = proj(part)
        xs += px + [None]
        ys += py + [None]
    return xs, ys


def frac_x(p):
    return (p - PAGE_MARGIN) / WIDTH


def frac_y(p):
    return 1 - (p - PAGE_MARGIN) / HEIGHT


def dom_x(p0, p1):
    return [frac_x(p0), frac_x(p1)]


def dom_y(p0, p1):
    return [frac_y(p1), frac_y(p0)]


def ref(letter, i):
    return letter if i == 1 else f"{letter}{i}"


col_left = [152.5, 655, 1158, 1660]
row_top = [68, 372, 675, 978, 1281]
PANEL_W, PANEL_H = 387, 217
FONT = "DejaVu Sans"

fig = go.Figure()
layout = {}
annotations = []
legend_of = {"Reanalysis": "legend", "Multi-Model Mean": "legend", "BCC-ESM1": "legend", "CESM2-WACCM": "legend",
             "CNRM-ESM2-1": "legend2", "GFDL-ESM4": "legend2", "GISS-E2-1-G": "legend2",
             "HadGEM3-GC31-LL": "legend3", "MIROC-ES2L": "legend3", "MPI-ESM-1-2-HAM": "legend3",
             "MRI-ESM2-0": "legend4", "NorESM2-LM": "legend4", "UKESM1-0-LL": "legend4"}
x_months = list(range(12))

for n, (title, tcolor, col, row, ymax, step, low, high, rean, mean, models) in enumerate(panels):
    i = n + 1
    over = i + 20
    xd = dom_x(col_left[col], col_left[col] + PANEL_W)
    yd = dom_y(row_top[row], row_top[row] + PANEL_H)
    xa, ya = ref("x", i), ref("y", i)
    xo, yo = ref("x", over), ref("y", over)
    first = n == 0
    # spread of the models
    fig.add_trace(go.Scatter(x=x_months, y=low, mode="lines", line=dict(width=0), xaxis=xa, yaxis=ya,
                             showlegend=False, hoverinfo="skip"))
    fig.add_trace(go.Scatter(x=x_months, y=high, mode="lines", line=dict(width=0), fill="tonexty", fillcolor="#efefef",
                             xaxis=xa, yaxis=ya, showlegend=False, hoverinfo="skip"))
    for m, vals in enumerate(models):
        name = model_names[m]
        fig.add_trace(go.Scatter(x=x_months, y=vals, mode="lines", name=name, opacity=0.75,
                                 line=dict(color=model_colors[m], width=3.6), xaxis=xa, yaxis=ya,
                                 legend=legend_of[name], legendgroup=name, legendrank=m + 3, showlegend=first))
    fig.add_trace(go.Scatter(x=x_months, y=mean, mode="lines", name="Multi-Model Mean",
                             line=dict(color="black", width=6), xaxis=xa, yaxis=ya, legend="legend",
                             legendgroup="Multi-Model Mean", legendrank=2, showlegend=first))
    fig.add_trace(go.Scatter(x=x_months, y=rean, mode="lines+markers", name="Reanalysis",
                             line=dict(color="#708090", width=5, dash="5px,9px"),
                             marker=dict(symbol="diamond-tall", size=16, color="#708090", line=dict(color="#708090", width=2)),
                             xaxis=xo, yaxis=yo, legend="legend", legendgroup="Reanalysis", legendrank=1,
                             showlegend=first, cliponaxis=False))

    labelled = row == 4
    layout[f"xaxis{i}"] = dict(domain=xd, anchor=ya, range=[-.55, 11.55], showgrid=False, zeroline=False,
                               showline=True, mirror=True, linecolor="black", linewidth=2,
                               ticks="outside", ticklen=5, tickwidth=2, tickcolor="black",
                               tickmode="array", tickvals=x_months, ticktext=months,
                               showticklabels=labelled, tickfont=dict(size=27, family=FONT, color="black"),
                               ticklabelstandoff=2)
    layout[f"yaxis{i}"] = dict(domain=yd, anchor=xa, range=[0, ymax], zeroline=False,
                               showline=True, mirror=True, linecolor="black", linewidth=2,
                               showgrid=True, gridcolor="#d8d8d8", griddash="dot", gridwidth=1,
                               ticks="outside", ticklen=8, tickwidth=3, tickcolor="black",
                               tickmode="linear", tick0=0, dtick=step,
                               minor=dict(ticks="outside", ticklen=4, tickwidth=2, tickcolor="black", dtick=step / 2, tick0=0),
                               tickfont=dict(size=27, family=FONT, color="black"), ticklabelstandoff=8)
    # second axes give the inward half of the ticks
    layout[f"xaxis{over}"] = dict(domain=xd, overlaying=xa, anchor=ya, range=[-.55, 11.55], showgrid=False, zeroline=False,
                                  showline=False, ticks="inside", ticklen=5, tickwidth=2, tickcolor="black",
                                  tickmode="array", tickvals=x_months, showticklabels=False)
    layout[f"yaxis{over}"] = dict(domain=yd, overlaying=ya, anchor=xa, range=[0, ymax], showgrid=False, zeroline=False,
                                  showline=False, ticks="inside", ticklen=8, tickwidth=3, tickcolor="black",
                                  tickmode="linear", tick0=0, dtick=step, showticklabels=False,
                                  minor=dict(ticks="inside", ticklen=4, tickwidth=2, tickcolor="black", dtick=step / 2, tick0=0))
    annotations.append(dict(text=title, xref="paper", yref="paper", x=frac_x(col_left[col] + PANEL_W / 2),
                            y=frac_y(row_top[row] - 37), xanchor="center", yanchor="middle", showarrow=False,
                            font=dict(size=32, family=FONT, color=tcolor)))

# world map panel
MAP = 17
mx, my = ref("x", MAP), ref("y", MAP)
lat_edge = [-83.5, -80, -75, -70, -65, -60, -55, -50, -45, -40, -35, -30, -25, -20, -15, -10, -5, 0,
            5, 10, 15, 20, 25, 30, 35, 40, 45, 50, 55, 60, 65, 70, 75, 80, 83.5]
outline = [(180, la) for la in lat_edge] + [(-180, la) for la in reversed(lat_edge)]
outline.append(outline[0])
north_lats = [la for la in lat_edge if la > 68]
south_lats = [la for la in lat_edge if la < -60]
north_cap = [(180, 68)] + [(180, la) for la in north_lats] + [(-180, la) for la in reversed(north_lats)] + [(-180, 68), (180, 68)]
south_cap = [(180, -60)] + [(180, la) for la in reversed(south_lats)] + [(-180, la) for la in south_lats] + [(-180, -60), (180, -60)]


def add_map(parts, fill=None, line="black", width=1.2):
    xs, ys = proj_parts(parts)
    fig.add_trace(go.Scatter(x=xs, y=ys, mode="lines", xaxis=mx, yaxis=my, showlegend=False, hoverinfo="skip",
                             fill="toself" if fill else None, fillcolor=fill, line=dict(color=line, width=width)))


add_map([outline], fill="#90ee90", line="#90ee90", width=0.5)
add_map([north_cap], fill="#87cefa", line="white", width=2)
add_map([south_cap], fill="#dcdcdc", line="white", width=2)
edge_count = {}
for color, parts in region_polys.items():
    add_map(parts, fill=color, line="white", width=2)
    for part in parts:
        for a, b in zip(part[:-1], part[1:]):
            key = frozenset((a, b))
            edge_count[key] = edge_count.get(key, 0) + 1
# coast = edges not shared by two regions, and not on the polar cut
coast_parts = []
for parts in region_polys.values():
    for part in parts:
        for a, b in zip(part[:-1], part[1:]):
            if edge_count[frozenset((a, b))] == 1 and not (a[1] == 68 and b[1] == 68):
                coast_parts.append([a, b])
add_map(coast_parts + coast_only, line="black", width=1.4)
add_map([outline], line="black", width=4)
layout[f"xaxis{MAP}"] = dict(domain=dom_x(650, 1552), anchor=my, range=[-451, 451], visible=False)
layout[f"yaxis{MAP}"] = dict(domain=dom_y(408, 856), anchor=mx, range=[-224, 224], visible=False)

annotations.append(dict(text="Surface PM<sub>2.5</sub> Concentration (µg m<sup>−3</sup>)", xref="paper", yref="paper",
                        x=frac_x(40), y=frac_y(776), xanchor="center", yanchor="middle", textangle=-90, showarrow=False,
                        font=dict(size=41, family=FONT, color="black")))

legend_style = dict(xanchor="left", yanchor="top", bgcolor="rgba(0,0,0,0)", itemwidth=46, tracegroupgap=0,
                    font=dict(size=20.5, family=FONT, color="black"))
layout["legend"] = dict(x=frac_x(575), y=frac_y(287), **legend_style)
layout["legend2"] = dict(x=frac_x(855), y=frac_y(287), **legend_style)
layout["legend3"] = dict(x=frac_x(1099), y=frac_y(287), **legend_style)
layout["legend4"] = dict(x=frac_x(1390), y=frac_y(287), **legend_style)

fig.update_layout(width=WIDTH, height=HEIGHT, margin=dict(l=0, r=0, t=0, b=0, autoexpand=False), autosize=False,
                  paper_bgcolor="white", plot_bgcolor="rgba(0,0,0,0)", annotations=annotations, hovermode=False,
                  font=dict(family=FONT), **layout)
fig.write_html("out.html")
